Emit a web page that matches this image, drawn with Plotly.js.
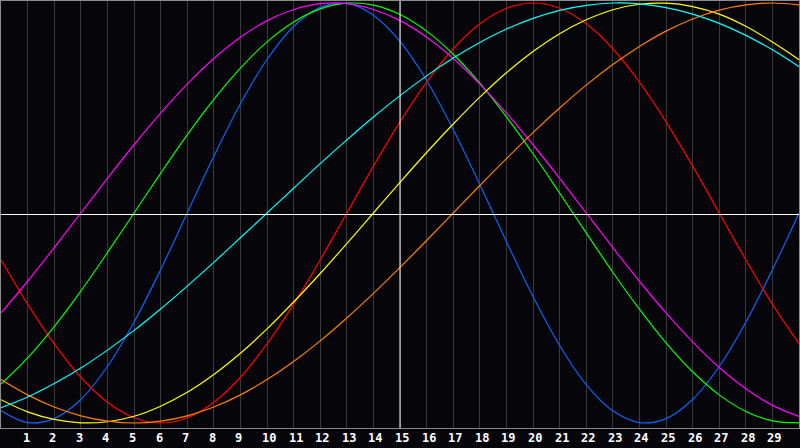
<!DOCTYPE html>
<html>
<head>
<meta charset="utf-8">
<script src="https://cdn.plot.ly/plotly-3.0.1.min.js"></script>
<style>
  html, body { margin: 0; padding: 0; background: #060509; }
  #grafica { width: 800px; height: 448px; }
</style>
</head>
<body>
<div id="grafica"></div>
<script>
// days shown on the chart
const dias = [0, 1, 2, 3, 4, 5, 6, 7, 8, 9, 10, 11, 12, 13, 14, 15,
  16, 17, 18, 19, 20, 21, 22, 23, 24, 25, 26, 27, 28, 29, 30];

// values, one per day (-1 .. 1)
const fisico = [-0.942, -0.998, -0.979, -0.888, -0.731, -0.520, -0.270, 0, 0.270, 0.520,
  0.731, 0.888, 0.979, 0.998, 0.942, 0.817, 0.631, 0.398, 0.136, -0.136,
  -0.398, -0.631, -0.817, -0.942, -0.998, -0.979, -0.888, -0.731, -0.520, -0.270, 0];
const emocional = [-0.223, -0.434, -0.623, -0.782, -0.901, -0.975, -1, -0.975, -0.901, -0.782,
  -0.623, -0.434, -0.223, 0, 0.223, 0.434, 0.623, 0.782, 0.901, 0.975,
  1, 0.975, 0.901, 0.782, 0.623, 0.434, 0.223, 0, -0.223, -0.434, -0.623];
const intelectual = [-0.815, -0.690, -0.541, -0.372, -0.189, 0, 0.189, 0.372, 0.541, 0.690,
  0.815, 0.910, 0.972, 0.999, 0.990, 0.945, 0.866, 0.756, 0.618, 0.458,
  0.282, 0.095, -0.095, -0.282, -0.458, -0.618, -0.756, -0.866, -0.945, -0.990, -0.999];
const intuitivo = [-0.476, -0.325, -0.165, 0, 0.165, 0.325, 0.476, 0.614, 0.736, 0.837,
  0.916, 0.969, 0.997, 0.997, 0.969, 0.916, 0.837, 0.736, 0.614, 0.476,
  0.325, 0.165, 0, -0.165, -0.325, -0.476, -0.614, -0.736, -0.837, -0.916, -0.969];
const estetico = [-0.889, -0.947, -0.983, -0.999, -0.994, -0.968, -0.920, -0.854, -0.769, -0.668,
  -0.552, -0.424, -0.288, -0.146, 0, 0.146, 0.288, 0.424, 0.552, 0.668,
  0.769, 0.854, 0.920, 0.968, 0.994, 0.999, 0.983, 0.947, 0.889, 0.814, 0.730];
const conciencia = [-0.793, -0.866, -0.924, -0.966, -0.991, -1, -0.991, -0.966, -0.924, -0.866,
  -0.793, -0.707, -0.609, -0.5, -0.383, -0.259, -0.131, 0, 0.131, 0.259,
  0.383, 0.5, 0.609, 0.707, 0.793, 0.866, 0.924, 0.966, 0.991, 1, 0.991];
const espiritual = [-0.927, -0.876, -0.812, -0.738, -0.653, -0.559, -0.457, -0.348, -0.235, -0.118,
  0, 0.118, 0.235, 0.348, 0.457, 0.559, 0.653, 0.738, 0.812, 0.876,
  0.927, 0.965, 0.989, 1.0, 0.996, 0.978, 0.947, 0.903, 0.846, 0.777, 0.697];

// bottom labels
const etiquetasDias = [1, 2, 3, 4, 5, 6, 7, 8, 9, 10, 11, 12, 13, 14, 15,
  16, 17, 18, 19, 20, 21, 22, 23, 24, 25, 26, 27, 28, 29];
const diaActual = 15;

const series = [
  { y: fisico, color: '#0a64ff' },
  { y: emocional, color: '#ff0000' },
  { y: intelectual, color: '#00ff00' },
  { y: intuitivo, color: '#ff00ff' },
  { y: estetico, color: '#ffff00' },
  { y: conciencia, color: '#ff7f00' },
  { y: espiritual, color: '#00ffff' }
];

const trazas = series.map(s => ({
  x: dias,
  y: s.y,
  type: 'scatter',
  mode: 'lines',
  line: { color: s.color, width: 1.2, shape: 'spline', smoothing: 1 },
  hoverinfo: 'skip'
}));

const anotaciones = etiquetasDias.map(d => ({
  x: d,
  y: 0,
  xref: 'x',
  yref: 'paper',
  text: String(d),
  showarrow: false,
  xanchor: 'left',
  yanchor: 'top',
  xshift: -7,
  yshift: -1,
  font: { family: 'DejaVu Sans Mono, monospace', size: 12, color: '#ffffff', weight: 'bold' }
}));

const layout = {
  width: 800,
  height: 448,
  margin: { l: 1, r: 1, t: 1, b: 20 },
  paper_bgcolor: '#060509',
  plot_bgcolor: '#060509',
  showlegend: false,
  xaxis: {
    range: [0, 30],
    dtick: 1,
    tick0: 0,
    showgrid: true,
    gridcolor: '#3a3a3a',
    gridwidth: 1,
    zeroline: false,
    showticklabels: false,
    ticks: '',
    showline: true,
    linecolor: '#8c8c8c',
    linewidth: 1,
    mirror: true,
    fixedrange: true
  },
  yaxis: {
    range: [-1.0238, 1.0095],
    showgrid: false,
    zeroline: false,
    showticklabels: false,
    ticks: '',
    showline: true,
    linecolor: '#8c8c8c',
    linewidth: 1,
    mirror: true,
    fixedrange: true
  },
  shapes: [
    { type: 'line', xref: 'paper', yref: 'paper', x0: 0, x1: 1, y0: 0.5, y1: 0.5,
      line: { color: '#ffffff', width: 1 }, layer: 'above' },
    { type: 'line', xref: 'x', yref: 'paper', x0: diaActual, x1: diaActual, y0: 0, y1: 1,
      line: { color: '#ffffff', width: 1 }, layer: 'above' }
  ],
  annotations: anotaciones
};

Plotly.newPlot('grafica', trazas, layout, { displayModeBar: false, staticPlot: true });
</script>
</body>
</html>
